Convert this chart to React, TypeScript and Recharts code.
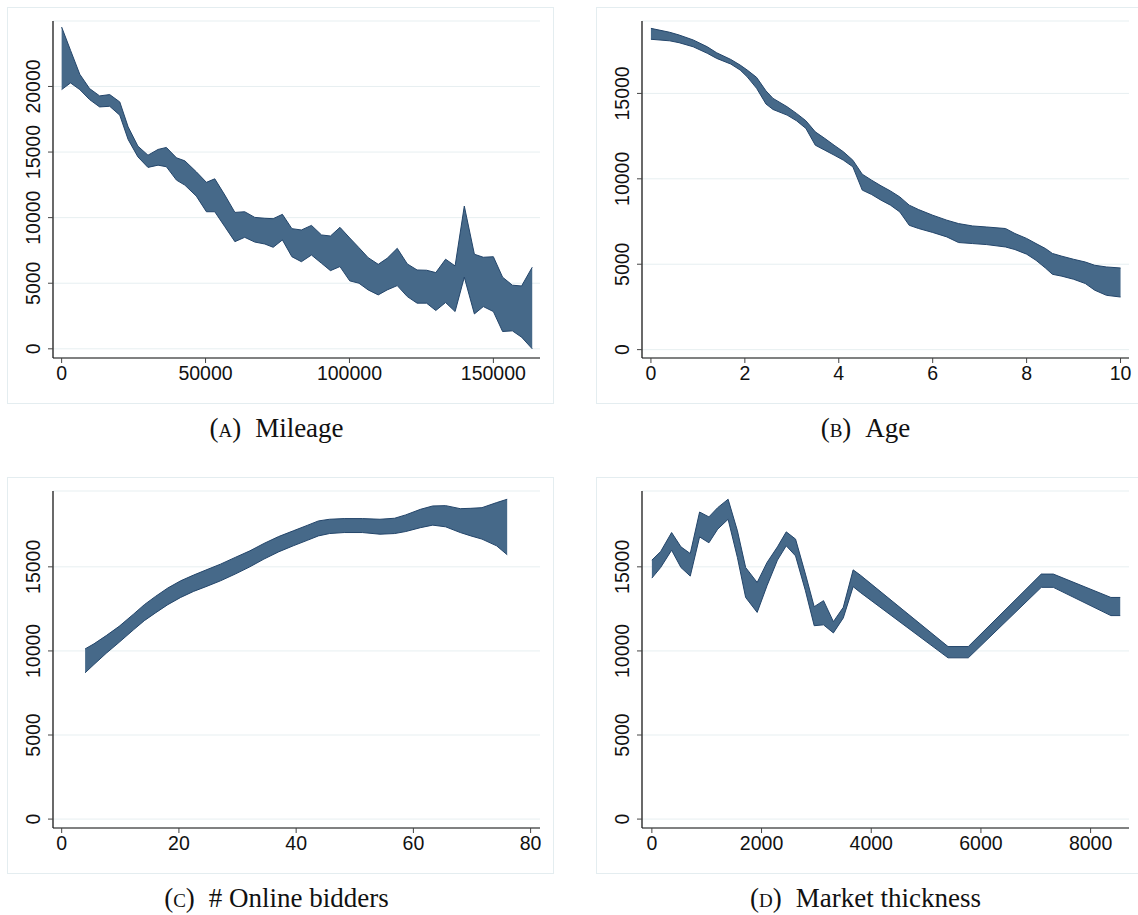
import React from 'react';
import { ComposedChart, Area, XAxis, YAxis, CartesianGrid } from 'recharts';

// (A) Mileage
const mileageX = [0, 3100, 6300, 9700, 13200, 16700, 20200, 23100, 26500, 30000, 33500, 36400, 39900, 42800, 46800, 50300, 53200, 56700, 60200, 63600, 67100, 70600, 73500, 76700, 80000, 83300, 86800, 90300, 93400, 96700, 100100, 103300, 106500, 110000, 113100, 116600, 120100, 123500, 126800, 130000, 133400, 136700, 139900, 143400, 146500, 150000, 153200, 156600, 159800, 163500];
const mileageHi = [24530, 22750, 20930, 19840, 19280, 19380, 18820, 16920, 15450, 14760, 15200, 15350, 14560, 14330, 13490, 12690, 12960, 11720, 10400, 10450, 10020, 9950, 9920, 10250, 9160, 9060, 9410, 8680, 8600, 9260, 8450, 7710, 6950, 6440, 6900, 7660, 6470, 6010, 5990, 5810, 6830, 6320, 10880, 7210, 6980, 7020, 5460, 4850, 4790, 6220];
const mileageLo = [19760, 20270, 19760, 19000, 18440, 18490, 17810, 15960, 14630, 13830, 14000, 13880, 12860, 12480, 11640, 10450, 10450, 9310, 8170, 8500, 8140, 7990, 7740, 8300, 7020, 6640, 7150, 6520, 5960, 6270, 5180, 5000, 4490, 4110, 4490, 4820, 3980, 3480, 3480, 2920, 3530, 2840, 5460, 2660, 3220, 2840, 1320, 1370, 890, 0];
const mileageTicks = [0, 50000, 100000, 150000];

// (B) Age
const ageX = [0, 0.4, 0.6, 0.9, 1.2, 1.4, 1.7, 1.9, 2.05, 2.25, 2.45, 2.6, 2.9, 3.1, 3.3, 3.5, 3.7, 3.9, 4.1, 4.3, 4.5, 4.7, 4.9, 5.1, 5.3, 5.5, 5.7, 6.0, 6.3, 6.55, 6.85, 7.15, 7.55, 7.75, 8.0, 8.2, 8.4, 8.55, 8.75, 9.0, 9.25, 9.45, 9.7, 10];
const ageHi = [18810, 18580, 18420, 18130, 17730, 17380, 16990, 16660, 16370, 15940, 15150, 14710, 14220, 13830, 13400, 12750, 12370, 11970, 11580, 11090, 10270, 9920, 9590, 9290, 8940, 8460, 8200, 7870, 7580, 7380, 7240, 7180, 7090, 6800, 6510, 6210, 5920, 5630, 5470, 5290, 5130, 4940, 4840, 4780];
const ageLo = [18170, 18080, 17970, 17730, 17350, 17050, 16720, 16370, 15970, 15300, 14380, 14060, 13730, 13400, 12950, 11970, 11680, 11390, 11090, 10700, 9340, 9080, 8750, 8460, 8060, 7280, 7090, 6860, 6600, 6270, 6210, 6150, 6010, 5860, 5590, 5230, 4780, 4410, 4300, 4120, 3870, 3480, 3180, 3080];
const ageTicks = [0, 2, 4, 6, 8, 10];

// (C) # Online bidders
const biddersX = [4, 5.5, 7.6, 9.8, 12.3, 14.1, 16, 18.1, 20.3, 22.5, 24.6, 27.1, 29.6, 32.1, 34.5, 37, 39.5, 42, 43.8, 45.7, 48.2, 51.3, 54.3, 56.8, 58.7, 61.2, 63.3, 65.5, 68, 69.8, 71.7, 74.2, 76];
const biddersHi = [10120, 10420, 10910, 11460, 12200, 12750, 13240, 13740, 14170, 14510, 14810, 15160, 15560, 15950, 16390, 16800, 17140, 17480, 17730, 17830, 17870, 17870, 17830, 17890, 18090, 18420, 18620, 18640, 18460, 18480, 18520, 18820, 19020];
const biddersLo = [8700, 9190, 9860, 10510, 11270, 11800, 12260, 12750, 13180, 13540, 13820, 14170, 14570, 15000, 15460, 15890, 16250, 16590, 16840, 16980, 17040, 17040, 16940, 16980, 17100, 17330, 17480, 17380, 17040, 16840, 16650, 16250, 15720];
const biddersTicks = [0, 20, 40, 60, 80];

// (D) Market thickness
const thickX = [0, 160, 360, 530, 700, 870, 1040, 1200, 1390, 1560, 1710, 1920, 2100, 2290, 2450, 2620, 2800, 2960, 3130, 3310, 3490, 3670, 3800, 5400, 5770, 7100, 7320, 8370, 8540];
const thickHi = [15400, 15910, 17040, 16190, 15790, 18260, 17970, 18520, 19020, 17140, 14960, 14070, 15260, 16190, 17080, 16650, 14570, 12630, 12990, 11740, 12590, 14820, 14510, 10260, 10260, 14570, 14570, 13180, 13180];
const thickLo = [14330, 14960, 15990, 14960, 14450, 16780, 16430, 17240, 17830, 15550, 13180, 12290, 13880, 15400, 16250, 15650, 13580, 11500, 11550, 11070, 11960, 13820, 13480, 9590, 9590, 13780, 13780, 12100, 12100];
const thickTicks = [0, 2000, 4000, 6000, 8000];

const priceTicksTop = [0, 5000, 10000, 15000, 20000];
const priceTicks = [0, 5000, 10000, 15000];

const BAND_FILL = '#466989';
const BAND_LINE = '#23456a';
const FRAME = '#e4edf0';
const GRID = '#e7eff1';
const SANS = '"Liberation Sans", Arial, sans-serif';
const SERIF = '"Liberation Serif", "Times New Roman", serif';

const makeRows = (xs: number[], lo: number[], hi: number[]) =>
  xs.map((x, i) => ({ x, band: [lo[i], hi[i]] }));

const XTick = (props: any) => {
  const { x, y, payload } = props;
  return (
    <text x={x} y={y + 17} textAnchor="middle" fontSize={19.5} fill="#111" fontFamily={SANS}>
      {payload.value}
    </text>
  );
};

const YTick = (props: any) => {
  const { x, y, payload } = props;
  const bx = x - 8;
  return (
    <text x={bx} y={y} transform={`rotate(-90, ${bx}, ${y})`} textAnchor="middle" fontSize={19.5} fill="#111" fontFamily={SANS}>
      {payload.value}
    </text>
  );
};

interface PanelProps {
  left: number;
  top: number;
  rows: any[];
  xDomain: [number, number];
  xTicks: number[];
  yDomain: [number, number];
  yTicks: number[];
  letter: string;
  title: string;
}

const W = 547;
const H = 397;

const Panel = ({ left, top, rows, xDomain, xTicks, yDomain, yTicks, letter, title }: PanelProps) => (
  <div style={{ position: 'absolute', left, top, width: W, height: H + 45 }}>
    <div style={{ position: 'absolute', left: 0, top: 0, width: W, height: H, border: `1px solid ${FRAME}`, boxSizing: 'border-box' }} />
    <div style={{ position: 'absolute', left: 0, top: 0 }}>
      <ComposedChart width={W} height={H} data={rows} margin={{ top: 14, right: 14, bottom: 0, left: 0 }}>
        <CartesianGrid vertical={false} stroke={GRID} strokeWidth={1} />
        <XAxis
          type="number"
          dataKey="x"
          domain={xDomain}
          ticks={xTicks}
          allowDataOverflow
          height={46}
          tickSize={5}
          tickMargin={0}
          tick={<XTick />}
          stroke="#5a5a5a"
          strokeWidth={1.6}
          tickLine={{ stroke: '#444', strokeWidth: 1 }}
        />
        <YAxis
          type="number"
          domain={yDomain}
          ticks={yTicks}
          allowDataOverflow
          width={46}
          tickSize={5}
          tickMargin={0}
          tick={<YTick />}
          stroke="#1a1a1a"
          strokeWidth={1.3}
          tickLine={{ stroke: '#444', strokeWidth: 1 }}
        />
        <Area
          type="linear"
          dataKey="band"
          fill={BAND_FILL}
          fillOpacity={1}
          stroke={BAND_LINE}
          strokeWidth={1}
          isAnimationActive={false}
        />
      </ComposedChart>
    </div>
    <svg width={W} height={45} style={{ position: 'absolute', left: 0, top: H }}>
      <text x={W / 2 - 4} y={33} textAnchor="middle" fontSize={27} fill="#111" fontFamily={SERIF}>
        <tspan>(</tspan>
        <tspan style={{ fontVariant: 'small-caps' }}>{letter}</tspan>
        <tspan>)</tspan>
        <tspan dx={14}>{title}</tspan>
      </text>
    </svg>
  </div>
);

export default function App() {
  return (
    <div style={{ position: 'absolute', left: 0, top: 0, width: 1138, height: 915, overflow: 'hidden', background: '#fff' }}>
      <Panel
        left={7}
        top={7}
        rows={makeRows(mileageX, mileageLo, mileageHi)}
        xDomain={[-3000, 166200]}
        xTicks={mileageTicks}
        yDomain={[-700, 24990]}
        yTicks={priceTicksTop}
        letter="a"
        title="Mileage"
      />
      <Panel
        left={596}
        top={7}
        rows={makeRows(ageX, ageLo, ageHi)}
        xDomain={[-0.19, 10.18]}
        xTicks={ageTicks}
        yDomain={[-490, 19240]}
        yTicks={priceTicks}
        letter="b"
        title="Age"
      />
      <Panel
        left={7}
        top={477}
        rows={makeRows(biddersX, biddersLo, biddersHi)}
        xDomain={[-1.48, 81.6]}
        xTicks={biddersTicks}
        yDomain={[-530, 19510]}
        yTicks={priceTicks}
        letter="c"
        title="# Online bidders"
      />
      <Panel
        left={596}
        top={477}
        rows={makeRows(thickX, thickLo, thickHi)}
        xDomain={[-180, 8700]}
        xTicks={thickTicks}
        yDomain={[-530, 19510]}
        yTicks={priceTicks}
        letter="d"
        title="Market thickness"
      />
    </div>
  );
}
